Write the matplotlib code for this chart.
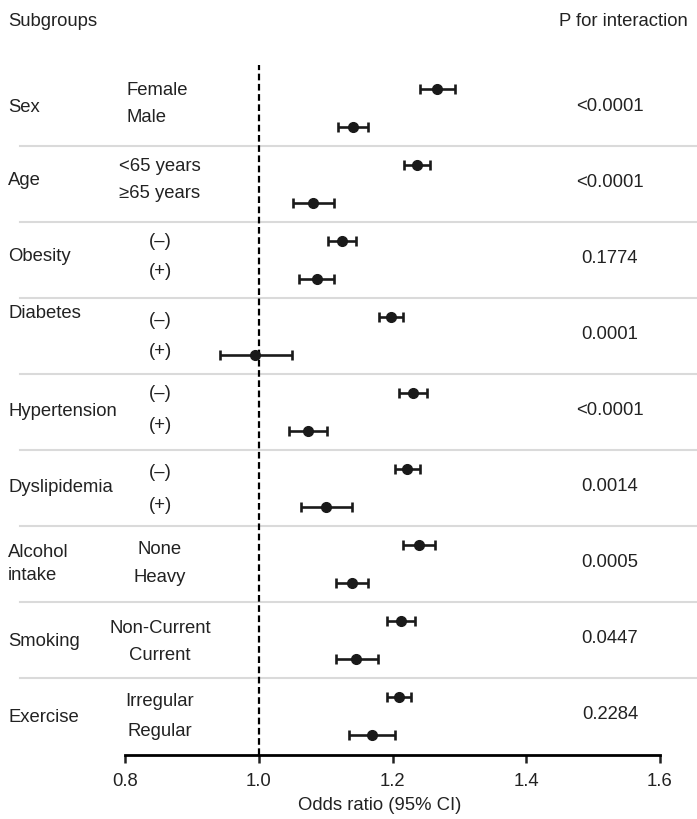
import matplotlib.pyplot as plt
import matplotlib.transforms as mtransforms
import numpy as np

plt.rcParams['font.family'] = ['Liberation Sans', 'DejaVu Sans']

# data
groups = ['Sex', 'Age', 'Obesity', 'Diabetes', 'Hypertension', 'Dyslipidemia',
          'Alcohol\nintake', 'Smoking', 'Exercise']
subgroups = [['Female', 'Male'], ['<65 years', '≥65 years'], ['(–)', '(+)'],
             ['(–)', '(+)'], ['(–)', '(+)'], ['(–)', '(+)'],
             ['None', 'Heavy'], ['Non-Current', 'Current'], ['Irregular', 'Regular']]
odds = [1.267, 1.141, 1.236, 1.081, 1.124, 1.087, 1.198, 0.994, 1.231,
        1.073, 1.222, 1.101, 1.240, 1.140, 1.213, 1.146, 1.210, 1.169]
ci_low = [1.241, 1.119, 1.217, 1.051, 1.104, 1.060, 1.180, 0.942, 1.210,
          1.045, 1.203, 1.063, 1.216, 1.116, 1.192, 1.115, 1.192, 1.135]
ci_high = [1.294, 1.163, 1.256, 1.112, 1.145, 1.113, 1.216, 1.049, 1.252,
           1.102, 1.241, 1.139, 1.264, 1.163, 1.234, 1.178, 1.228, 1.204]
p_values = ['<0.0001', '<0.0001', '0.1774', '0.0001', '<0.0001', '0.0014',
            '0.0005', '0.0447', '0.2284']
xticks = [0.8, 1.0, 1.2, 1.4, 1.6]

# layout (pixels)
W, H = 697, 819
row_top, row_step = 89, 38
# small vertical nudges of the subgroup labels, in rows
label_shift = [[0.05, -0.26], [0.05, -0.26], [0.0, -0.2], [0.08, -0.08],
               [0.0, -0.15], [0.08, -0.05], [0.12, -0.15], [0.2, -0.08], [0.13, -0.08]]
group_shift = [0, -0.1, -0.1, -0.6, 0, 0, 0, 0.05, 0.05]
fs = 13.3

fig = plt.figure(figsize=(W / 100, H / 100), dpi=100)
ax = fig.add_axes([125 / W, 1 - 755 / H, (660 - 125) / W, (755 - 65) / H])
ax.set_xlim(0.8, 1.6)
ax.set_ylim((755 - row_top) / row_step, (65 - row_top) / row_step)

odds = np.array(odds)
rows = np.arange(len(odds))
ax.errorbar(odds, rows, xerr=[odds - np.array(ci_low), np.array(ci_high) - odds],
            fmt='o', color='#1a1a1a', ms=7, capsize=3.6, elinewidth=1.9,
            capthick=1.9, zorder=3)
ax.axvline(1.0, color='black', ls=(0, (3, 1.6)), lw=1.6, zorder=2)

for s in ['left', 'top', 'right']:
    ax.spines[s].set_visible(False)
ax.spines['bottom'].set_bounds(0.8, 1.6)
ax.spines['bottom'].set_linewidth(2)
ax.set_yticks([])
ax.set_xticks(xticks)
ax.set_xticklabels(['%.1f' % t for t in xticks])
ax.tick_params(axis='x', length=6, width=1.8, labelsize=fs, pad=7, colors='#222222')

blend = mtransforms.blended_transform_factory(fig.transFigure, ax.transData)
txt = dict(fontsize=fs, color='#222222', va='center')

for i, g in enumerate(groups):
    r0, r1 = 2 * i, 2 * i + 1
    mid = (r0 + r1) / 2
    ax.text(8 / W, mid + group_shift[i], g, transform=blend, ha='left',
            linespacing=1.45, **txt)
    for k, lab in enumerate(subgroups[i]):
        y = 2 * i + k + label_shift[i][k]
        if i == 0:
            ax.text(127 / W, y, lab, transform=blend, ha='left', **txt)
        else:
            ax.text(160 / W, y, lab, transform=blend, ha='center', **txt)
    ax.text(610 / W, mid - 0.05, p_values[i], transform=blend, ha='center', **txt)
    if i < len(groups) - 1:
        ax.plot([20 / W, 1], [r1 + 0.5, r1 + 0.5], transform=blend, color='#dadada',
                lw=1.5, clip_on=False, zorder=0)

fig.text(8 / W, 1 - 22 / H, 'Subgroups', ha='left', **txt)
fig.text(688 / W, 1 - 22 / H, 'P for interaction', ha='right', **txt)
fig.text(380 / W, 1 - 805 / H, 'Odds ratio (95% CI)', ha='center', **txt)

fig.savefig('out.png', dpi=100)
